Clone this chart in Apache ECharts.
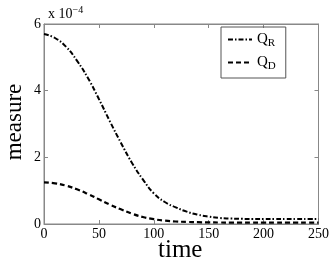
<!DOCTYPE html>
<html><head><meta charset="utf-8">
<script src="https://cdn.jsdelivr.net/npm/echarts@6/dist/echarts.min.js"></script>
<style>html,body{margin:0;padding:0;background:#fff}#c{width:332px;height:270px}</style>
</head><body><div id="c"></div>
<script>
// values in units of 1e-4
const times = [0,10,20,30,40,50,60,70,80,90,100,110,120,130,140,150,160,170,180,190,200,210,220,230,240,250];
const qR = [5.7,5.58,5.32,4.9,4.38,3.75,3.08,2.44,1.84,1.34,0.92,0.66,0.5,0.37,0.28,0.22,0.18,0.165,0.155,0.15,0.15,0.15,0.15,0.15,0.15,0.15];
const qD = [1.25,1.22,1.15,1.04,0.9,0.74,0.58,0.44,0.31,0.21,0.145,0.1,0.075,0.062,0.054,0.048,0.045,0.042,0.04,0.04,0.04,0.04,0.04,0.04,0.04,0.04];
const xTicks = [0,50,100,150,200,250];
const yTicks = [0,2,4,6];
const font = 'Liberation Serif';
const axisCol = '#888';
const chart = echarts.init(document.getElementById('c'));
const mk = arr => times.map((t,i)=>[t,arr[i]]);
const baseX = {type:'value',min:0,max:250,interval:50,axisLine:{show:true,onZero:false,lineStyle:{color:axisCol,width:1}},
  axisTick:{show:true,inside:true,length:4,lineStyle:{color:axisCol}},splitLine:{show:false}};
const baseY = {type:'value',min:0,max:6,interval:2,axisLine:{show:true,onZero:false,lineStyle:{color:axisCol,width:1}},
  axisTick:{show:true,inside:true,length:4,lineStyle:{color:axisCol}},splitLine:{show:false}};
chart.setOption({
  animation:false,
  grid:{left:44,right:13,top:24,bottom:46,show:true,borderColor:axisCol,borderWidth:1},
  xAxis:[Object.assign({},baseX,{position:'bottom',axisLabel:{color:'#000',fontFamily:font,fontSize:14,margin:3}}),
         Object.assign({},baseX,{position:'top',axisLabel:{show:false}})],
  yAxis:[Object.assign({},baseY,{position:'left',axisLabel:{color:'#000',fontFamily:font,fontSize:14,margin:3}}),
         Object.assign({},baseY,{position:'right',axisLabel:{show:false}})],
  legend:{show:true,left:221,top:27,orient:'vertical',itemWidth:24,itemHeight:10,itemGap:6,
    borderColor:'#555',borderWidth:1,padding:[5,10,6,6],itemStyle:{opacity:0},
    data:['QR','QD'],
    formatter:n=>'Q{s|'+n.slice(1)+'}',
    textStyle:{fontFamily:font,fontSize:15,color:'#000',rich:{s:{fontFamily:font,fontSize:11,verticalAlign:'bottom',padding:[8,0,0,0]}}}},
  series:[
    {name:'QR',type:'line',data:mk(qR),symbol:'none',smooth:true,
     lineStyle:{color:'#000',width:2,type:[5,2,1.5,2]},itemStyle:{color:'#000'}},
    {name:'QD',type:'line',data:mk(qD),symbol:'none',smooth:true,
     lineStyle:{color:'#000',width:2.2,type:[5,3]},itemStyle:{color:'#000'}},
    {name:'frame',type:'line',xAxisIndex:1,yAxisIndex:1,data:[],silent:true}
  ],
  graphic:[
    {type:'text',left:48,top:5,style:{text:'x 10{s|−4}',fontFamily:font,fontSize:14,fill:'#000',
      rich:{s:{fontFamily:font,fontSize:10,verticalAlign:'top',padding:[0,0,8,0]}}}},
    {type:'text',left:158,top:238,style:{text:'time',fontFamily:font,fontSize:25,fill:'#000'}},
    {type:'text',x:3,y:122,rotation:Math.PI/2,style:{text:'measure',fontFamily:font,fontSize:23,fill:'#000',align:'center',verticalAlign:'top'}}
  ]
});
</script></body></html>
